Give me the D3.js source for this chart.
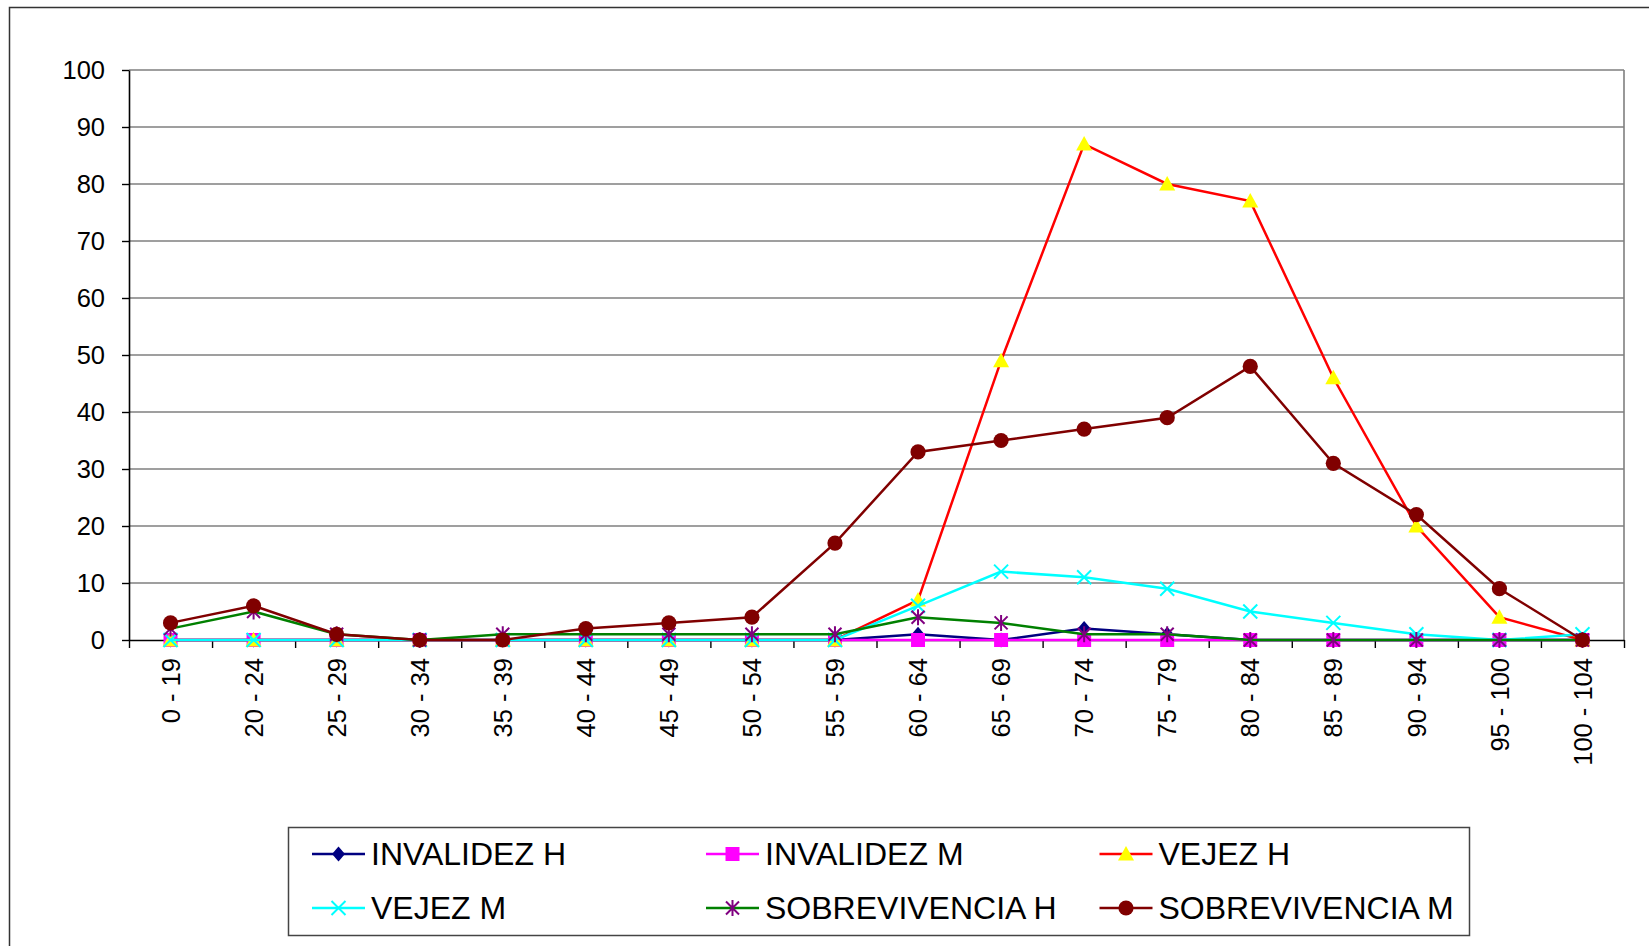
<!DOCTYPE html>
<html>
<head>
<meta charset="utf-8">
<script src="https://cdn.jsdelivr.net/npm/d3@7"></script>
<style>
	body{margin:0;background:#fff;}
	svg{display:block;font-family:'Liberation Sans',Arial,sans-serif;}
</style>
</head>
<body>
<svg id="chart" width="1649" height="946"></svg>
<script>
const categories = ['0 - 19','20 - 24','25 - 29','30 - 34','35 - 39','40 - 44','45 - 49','50 - 54','55 - 59','60 - 64','65 - 69','70 - 74','75 - 79','80 - 84','85 - 89','90 - 94','95 - 100','100 - 104']
const yTicks = [0,10,20,30,40,50,60,70,80,90,100]

const invalidez_h = [0,0,0,0,0,0,0,0,0,1,0,2,1,0,0,0,0,0]
const invalidez_m = [0,0,0,0,0,0,0,0,0,0,0,0,0,0,0,0,0,0]
const vejez_h = [0,0,0,0,0,0,0,0,0,7,49,87,80,77,46,20,4,0]
const vejez_m = [0,0,0,0,0,0,0,0,0,6,12,11,9,5,3,1,0,1]
const sobrevivencia_h = [2,5,1,0,1,1,1,1,1,4,3,1,1,0,0,0,0,0]
const sobrevivencia_m = [3,6,1,0,0,2,3,4,17,33,35,37,39,48,31,22,9,0]

const series = [
	{name:'INVALIDEZ H', values:invalidez_h, line:'#000080', marker:'diamond', fill:'#000080'},
	{name:'INVALIDEZ M', values:invalidez_m, line:'#ff00ff', marker:'square', fill:'#ff00ff'},
	{name:'VEJEZ H', values:vejez_h, line:'#ff0000', marker:'triangle', fill:'#ffff00'},
	{name:'VEJEZ M', values:vejez_m, line:'#00ffff', marker:'x', fill:'#00ffff'},
	{name:'SOBREVIVENCIA H', values:sobrevivencia_h, line:'#008000', marker:'star', fill:'#800080'},
	{name:'SOBREVIVENCIA M', values:sobrevivencia_m, line:'#800000', marker:'circle', fill:'#800000'}
]

const plot = {left:129, right:1624, top:70, bottom:640}

const svg = d3.select('#chart')

/*outer frame, runs off the right and bottom*/
svg.append('rect')
	.attr('x',9.5).attr('y',7.5)
	.attr('width',1700).attr('height',1000)
	.attr('fill','none').attr('stroke','#333').attr('stroke-width',1.5)

const xScale = d3.scaleBand()
	.domain(categories)
	.range([plot.left,plot.right])

const xEdges = d3.scaleLinear()
	.domain([0,categories.length])
	.range([plot.left,plot.right])

const yScale = d3.scaleLinear()
	.domain([0,100])
	.range([plot.bottom,plot.top])

const cx = (c)=> xScale(c) + xScale.bandwidth()/2

// gridlines
svg.append('g')
	.selectAll('line')
	.data(yTicks.filter(t => t > 0))
	.enter()
	.append('line')
	.attr('x1',plot.left).attr('x2',plot.right)
	.attr('y1',d => yScale(d)).attr('y2',d => yScale(d))
	.attr('stroke','#7f7f7f').attr('stroke-width',1.6)

svg.append('line')
	.attr('x1',plot.right).attr('x2',plot.right)
	.attr('y1',plot.top).attr('y2',plot.bottom)
	.attr('stroke','#7f7f7f').attr('stroke-width',1.6)

// y axis
const axisY = svg.append('g')
	.attr('transform',`translate(${plot.left},0)`)
	.call(d3.axisLeft(yScale).tickValues(yTicks).tickSize(7).tickPadding(17).tickSizeOuter(0))
axisY.select('.domain').attr('stroke','#000').attr('stroke-width',1.6)
axisY.selectAll('.tick line').attr('stroke','#000').attr('stroke-width',1.4)
axisY.selectAll('text').attr('font-size',25.5).attr('font-family','Liberation Sans, Arial, sans-serif').attr('fill','#000')

// x axis ticks on band edges
const axisX = svg.append('g')
	.attr('transform',`translate(0,${plot.bottom})`)
	.call(d3.axisBottom(xEdges).tickValues(d3.range(categories.length+1)).tickFormat('').tickSize(8).tickSizeOuter(0))
axisX.select('.domain').attr('stroke','#000').attr('stroke-width',1.6)
axisX.selectAll('.tick line').attr('stroke','#000').attr('stroke-width',1.4)

svg.append('g')
	.selectAll('text')
	.data(categories)
	.enter()
	.append('text')
	.text(d => d)
	.attr('transform',d => `translate(${cx(d)},${plot.bottom + 18}) rotate(-90)`)
	.attr('text-anchor','end')
	.attr('dy','0.36em')
	.attr('font-size',25.5)
	.attr('fill','#000')

// markers
const markerPath = (type)=>{
	if(type === 'diamond') return 'M0,-7.5L6.5,0L0,7.5L-6.5,0Z'
	if(type === 'square') return 'M-7,-7H7V7H-7Z'
	if(type === 'triangle') return 'M0,-8L8,6.5H-8Z'
	if(type === 'x') return 'M-7,-7L7,7M-7,7L7,-7'
	if(type === 'star') return 'M-6.5,-6.5L6.5,6.5M-6.5,6.5L6.5,-6.5M0,-8V8'
	return null
}

const drawMarker = (g,s,x,y)=>{
	if(s.marker === 'circle'){
		g.append('circle').attr('cx',x).attr('cy',y).attr('r',7.6).attr('fill',s.fill)
		return
	}
	const p = g.append('path')
		.attr('d',markerPath(s.marker))
		.attr('transform',`translate(${x},${y})`)
	if(s.marker === 'x' || s.marker === 'star'){
		p.attr('fill','none').attr('stroke',s.fill).attr('stroke-width',2)
	}else{
		p.attr('fill',s.fill)
	}
}

const line = d3.line()
	.x((d,i) => cx(categories[i]))
	.y(d => yScale(d))

for(let s of series){
	const g = svg.append('g')
	g.append('path')
		.datum(s.values)
		.attr('d',line)
		.attr('fill','none')
		.attr('stroke',s.line)
		.attr('stroke-width',2.5)
	s.values.forEach((v,i)=>{
		drawMarker(g,s,cx(categories[i]),yScale(v))
	})
}

// legend
svg.append('rect')
	.attr('x',288.5).attr('y',827.5)
	.attr('width',1181).attr('height',108)
	.attr('fill','#fff').attr('stroke','#444').attr('stroke-width',1.5)

const legCols = [312,706,1099.5]
const legRows = [854,908]

series.forEach((s,i)=>{
	const x = legCols[i % 3]
	const y = legRows[Math.floor(i / 3)]
	const g = svg.append('g')
	g.append('line')
		.attr('x1',x).attr('x2',x + 53)
		.attr('y1',y).attr('y2',y)
		.attr('stroke',s.line).attr('stroke-width',2.5)
	drawMarker(g,s,x + 26.5,y)
	g.append('text')
		.text(s.name)
		.attr('x',x + 59)
		.attr('y',y + 11)
		.attr('font-size',32)
		.attr('fill','#000')
})
</script>
</body>
</html>
